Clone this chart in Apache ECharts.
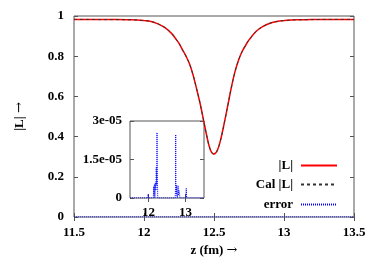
<!DOCTYPE html>
<html>
<head>
<meta charset="utf-8">
<script src="https://cdn.jsdelivr.net/npm/echarts@6/dist/echarts.min.js"></script>
<style>html,body{margin:0;padding:0;background:#fff}#c{width:374px;height:262px}</style>
</head>
<body>
<div id="c"></div>
<script>
// |L| versus z (fm)
var zValues = [11.5, 11.6, 11.7, 11.8, 11.9, 11.95, 12.0, 12.05, 12.1, 12.15, 12.2, 12.225, 12.25, 12.275, 12.3, 12.325, 12.35, 12.375, 12.4, 12.425, 12.45, 12.475, 12.5, 12.525, 12.55, 12.575, 12.6, 12.625, 12.65, 12.675, 12.7, 12.725, 12.75, 12.8, 12.85, 12.9, 12.95, 13.0, 13.05, 13.1, 13.2, 13.3, 13.5];
var lValues = [0.983, 0.983, 0.982, 0.982, 0.981, 0.980, 0.977, 0.973, 0.961, 0.942, 0.911, 0.888, 0.864, 0.832, 0.800, 0.762, 0.708, 0.640, 0.567, 0.483, 0.398, 0.332, 0.313, 0.333, 0.392, 0.473, 0.560, 0.648, 0.723, 0.780, 0.822, 0.853, 0.881, 0.923, 0.948, 0.964, 0.973, 0.977, 0.980, 0.981, 0.982, 0.983, 0.983];
// calculated |L| (same as |L| within line width)
var calValues = lValues.slice();
// error between the two
var errZ = [11.5, 11.98, 11.99, 12.0, 12.13, 12.14, 12.15, 12.16, 12.17, 12.18, 12.19, 12.2, 12.21, 12.22, 12.23, 12.24, 12.25, 12.72, 12.73, 12.735, 12.74, 12.75, 12.76, 12.77, 12.78, 12.8, 12.81, 12.82, 12.84, 12.85, 13.01, 13.02, 13.03, 13.5];
var errValues = [0, 0, 1.5e-6, 0, 0, 4.5e-6, 1e-6, 5.5e-6, 0, 2e-6, 6e-6, 3e-6, 1.2e-5, 5e-6, 2.55e-5, 9e-6, 0, 0, 4e-6, 2.47e-5, 3e-6, 1e-6, 5e-6, 2e-6, 0, 4.8e-6, 1e-6, 3e-6, 1.5e-6, 0, 0, 3.8e-6, 0, 0];
// tick labels
var mainXTicks = [11.5, 12, 12.5, 13, 13.5];
var mainYTicks = [0, 0.2, 0.4, 0.6, 0.8, 1];
var insetXTicks = [12, 13];
var insetYTicks = [0, 1.5e-5, 3e-5];

function pairs(xs, ys) { return xs.map(function (x, i) { return [x, ys[i]]; }); }
function expFmt(v) {
  if (v === 0) return '0';
  var s = Number(v.toPrecision(3)).toExponential();
  return s.replace(/e([+-])(\d)$/, 'e$10$2');
}

var FONT = 'Liberation Serif';
var txt = { fontFamily: FONT, fontWeight: 'bold', fontSize: 13, color: '#000' };
var frame = '#555';
var nameStyle = Object.assign({}, txt, {
  rich: { a: { fontFamily: 'DejaVu Serif', fontSize: 13, fontWeight: 'normal', color: '#000' } }
});

function axis(base, extra) { return Object.assign({}, base, extra); }

var mainX = { type: 'value', gridIndex: 0, min: 11.5, max: 13.5, interval: 0.5,
  axisLine: { show: false }, splitLine: { show: false },
  axisTick: { inside: true, length: 4, lineStyle: { color: frame }, customValues: mainXTicks },
  axisLabel: Object.assign({ margin: 9, customValues: mainXTicks }, txt) };
var mainY = { type: 'value', gridIndex: 0, min: 0, max: 1, interval: 0.2,
  axisLine: { show: false }, splitLine: { show: false },
  axisTick: { inside: true, length: 4, lineStyle: { color: frame }, customValues: mainYTicks },
  axisLabel: Object.assign({ margin: 10, customValues: mainYTicks }, txt) };
var inX = { type: 'value', gridIndex: 1, min: 11.5, max: 13.5,
  axisLine: { show: false }, splitLine: { show: false },
  axisTick: { inside: true, length: 4, lineStyle: { color: frame }, customValues: insetXTicks },
  axisLabel: Object.assign({ margin: 8, customValues: insetXTicks }, txt) };
var inY = { type: 'value', gridIndex: 1, min: 0, max: 3e-5, interval: 1.5e-5,
  axisLine: { show: false }, splitLine: { show: false },
  axisTick: { inside: true, length: 4, lineStyle: { color: frame }, customValues: insetYTicks },
  axisLabel: Object.assign({ margin: 8, customValues: insetYTicks, formatter: expFmt }, txt) };

var legendBase = { orient: 'vertical', align: 'right', itemWidth: 36, itemHeight: 14, padding: 0, itemGap: 0,
  right: 36, itemStyle: { opacity: 0 }, textStyle: Object.assign({ padding: [0, 3, 0, 0] }, txt) };

var chart = echarts.init(document.getElementById('c'), null, { renderer: 'canvas' });
chart.setOption({
  animation: false,
  backgroundColor: '#fff',
  grid: [
    { left: 74, top: 16, right: 20, bottom: 43, show: true, borderColor: frame, borderWidth: 1, backgroundColor: 'transparent' },
    { left: 130, top: 121, width: 74, height: 77, show: true, borderColor: frame, borderWidth: 1, backgroundColor: '#fff' }
  ],
  xAxis: [
    axis(mainX, { position: 'bottom', name: 'z (fm) {a|\u2192}', nameLocation: 'middle', nameGap: 27, nameTextStyle: nameStyle }),
    axis(mainX, { position: 'top', axisLabel: { show: false } }),
    axis(inX, { position: 'bottom' }),
    axis(inX, { position: 'top', axisLabel: { show: false } })
  ],
  yAxis: [
    axis(mainY, { position: 'left', name: '|L| {a|\u2192}', nameLocation: 'middle', nameGap: 48, nameRotate: 90, nameTextStyle: nameStyle }),
    axis(mainY, { position: 'right', axisLabel: { show: false } }),
    axis(inY, { position: 'left' }),
    axis(inY, { position: 'right', axisLabel: { show: false } })
  ],
  legend: [
    Object.assign({ top: 159, data: ['|L|'] }, legendBase),
    Object.assign({ top: 178, data: ['Cal |L|'] }, legendBase),
    Object.assign({ top: 198, data: ['error'] }, legendBase)
  ],
  series: [
    { name: '|L|', type: 'line', xAxisIndex: 0, yAxisIndex: 0, data: pairs(zValues, lValues), symbol: 'none', smooth: 0.35,
      lineStyle: { color: '#f00', width: 1.5 }, itemStyle: { color: '#f00' }, z: 3 },
    { name: 'Cal |L|', type: 'line', xAxisIndex: 0, yAxisIndex: 0, data: pairs(zValues, calValues), symbol: 'none', smooth: 0.35,
      lineStyle: { color: '#333', width: 1, type: [3, 3] }, itemStyle: { color: '#333' }, z: 4 },
    { name: 'error', type: 'line', xAxisIndex: 0, yAxisIndex: 0, data: pairs(errZ, errValues), symbol: 'none',
      lineStyle: { color: '#00f', width: 1, type: [1, 1] }, itemStyle: { color: '#00f' }, z: 5 },
    { name: 'error', type: 'line', xAxisIndex: 2, yAxisIndex: 2, data: pairs(errZ, errValues), symbol: 'none',
      lineStyle: { color: '#00f', width: 1, type: [1, 1] }, itemStyle: { color: '#00f' }, z: 5 }
  ]
});
</script>
</body>
</html>
